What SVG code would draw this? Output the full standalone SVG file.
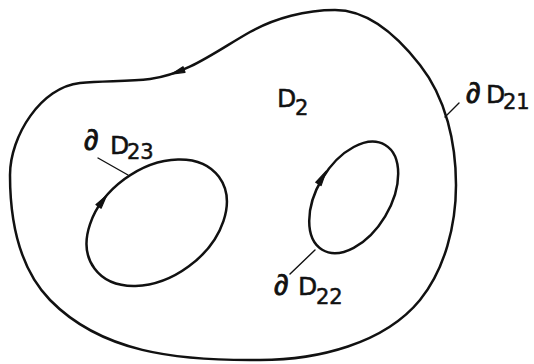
<svg xmlns="http://www.w3.org/2000/svg" width="534" height="364" viewBox="0 0 534 364">
  <style>
    .curve { fill: none; stroke: #111; stroke-width: 2.5; stroke-linejoin: round; }
    .leader { fill: none; stroke: #111; stroke-width: 1.4; stroke-linecap: round; }
    .arrow { fill: #111; stroke: #111; stroke-width: 1.2; stroke-linejoin: round; }
    .lbl { font-family: "DejaVu Sans", "Liberation Sans", sans-serif; font-size: 25px; fill: #111; stroke: #111; stroke-width: 0.5; }
    .del { font-family: "Noto Sans", "Liberation Sans", sans-serif; font-size: 29px; stroke-width: 0.8; }
    .sub { font-size: 21px; }
  </style>
  <rect width="534" height="364" fill="#ffffff"/>

  <g id="boundary-D21">
    <path class="curve" d="M 80,83 C 103,80.7 127,81.7 150,79 C 186.7,74.6 218,50 250,32 C 275,18 306,10 335,10 C 369,10 399,38 420,65 C 446,98 456,143 456,185 C 456,225 445,269 420,300 C 384,344 317,360 260,360 C 175,361 101,352 50,300 C 19,268 10,219 10,175 C 10,136 41,87 80,83 Z"/>
    <polygon class="arrow" points="171.4,74.2 185,72.3 183,66.7"/>
    <text class="lbl" x="466" y="103"><tspan class="del">∂</tspan><tspan x="486">D</tspan><tspan class="sub" x="503" dy="6">21</tspan></text>
  </g>

  <g id="region-D2">
    <text class="lbl" x="277" y="107">D<tspan class="sub" x="295" dy="8">2</tspan></text>
  </g>

  <g id="boundary-D23">
    <ellipse class="curve" cx="156.7" cy="222.7" rx="77.3" ry="54.2" transform="rotate(-36.4 156.7 222.7)"/>
    <polygon class="arrow" points="106.6,195.5 101.1,208.2 95.9,204.6"/>
    <text class="lbl" x="84" y="150"><tspan class="del">∂</tspan><tspan x="110" dy="4">D</tspan><tspan class="sub" x="127" dy="5">23</tspan></text>
  </g>

  <g id="boundary-D22">
    <ellipse class="curve" cx="353.7" cy="197.4" rx="61.1" ry="36.7" transform="rotate(-59 353.7 197.4)"/>
    <polygon class="arrow" points="326.1,171.2 321.1,185.6 315.7,182.3"/>
    <text class="lbl" x="274" y="295"><tspan class="del">∂</tspan><tspan x="298">D</tspan><tspan class="sub" x="316" dy="9">22</tspan></text>
  </g>

  <g id="connectors">
    <line class="leader" x1="445" y1="117" x2="459" y2="103"/>
    <line class="leader" x1="98" y1="158" x2="128" y2="175"/>
    <line class="leader" x1="290" y1="274" x2="315" y2="250"/>
  </g>
</svg>
